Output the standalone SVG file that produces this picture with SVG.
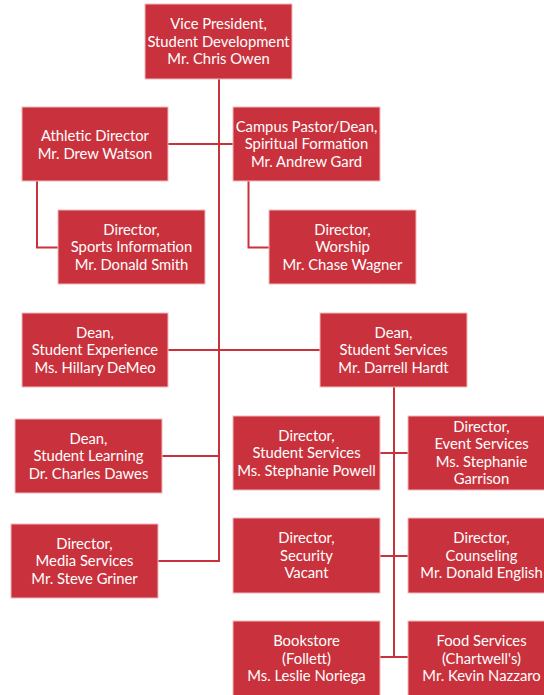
<svg xmlns="http://www.w3.org/2000/svg" width="544" height="695" viewBox="0 0 544 695">
<style>
.box{fill:#c9323c;stroke:#f2b9bc;stroke-width:1}
.t{font-family:Lato,"Liberation Sans",sans-serif;font-size:14.8px;fill:#ffffff;text-anchor:middle}
.c{fill:none;stroke:#c9323c;stroke-width:2}
</style>
<rect width="544" height="695" fill="#ffffff"/>
<g id="connectors">
<path class="c" d="M219 79V562"/>
<path class="c" d="M168 144H233"/>
<path class="c" d="M37 181V247.5H58"/>
<path class="c" d="M248.5 181V247.5H269"/>
<path class="c" d="M168 350H320"/>
<path class="c" d="M394 387V657"/>
<path class="c" d="M380 453H408"/>
<path class="c" d="M380 556H408"/>
<path class="c" d="M380 657H408"/>
<path class="c" d="M162 456H220"/>
<path class="c" d="M158 561H220"/>
</g>
<g id="vp"><rect class="box" x="145" y="4" width="147" height="75"/><text class="t" x="218.5"><tspan x="218.5" y="29">Vice President,</tspan><tspan x="218.5" y="46.5">Student Development</tspan><tspan x="218.5" y="64">Mr. Chris Owen</tspan></text></g>
<g id="athletic"><rect class="box" x="22" y="107" width="146" height="74"/><text class="t"><tspan x="95" y="141">Athletic Director</tspan><tspan x="95" y="158.5">Mr. Drew Watson</tspan></text></g>
<g id="campus"><rect class="box" x="233" y="107" width="147" height="74"/><text class="t"><tspan x="306.5" y="131.5">Campus Pastor/Dean,</tspan><tspan x="306.5" y="149">Spiritual Formation</tspan><tspan x="306.5" y="166.5">Mr. Andrew Gard</tspan></text></g>
<g id="sports"><rect class="box" x="58" y="210" width="147" height="74"/><text class="t"><tspan x="131.5" y="234.5">Director,</tspan><tspan x="131.5" y="252">Sports Information</tspan><tspan x="131.5" y="269.5">Mr. Donald Smith</tspan></text></g>
<g id="worship"><rect class="box" x="269" y="210" width="147" height="74"/><text class="t"><tspan x="342.5" y="234.5">Director,</tspan><tspan x="342.5" y="252">Worship</tspan><tspan x="342.5" y="269.5">Mr. Chase Wagner</tspan></text></g>
<g id="experience"><rect class="box" x="22" y="313" width="146" height="74"/><text class="t"><tspan x="95" y="337.5">Dean,</tspan><tspan x="95" y="355">Student Experience</tspan><tspan x="95" y="372.5">Ms. Hillary DeMeo</tspan></text></g>
<g id="deanss"><rect class="box" x="320" y="313" width="147" height="74"/><text class="t"><tspan x="393.5" y="337.5">Dean,</tspan><tspan x="393.5" y="355">Student Services</tspan><tspan x="393.5" y="372.5">Mr. Darrell Hardt</tspan></text></g>
<g id="dirss"><rect class="box" x="233" y="416" width="147" height="74"/><text class="t"><tspan x="306.5" y="440.5">Director,</tspan><tspan x="306.5" y="458">Student Services</tspan><tspan x="306.5" y="475.5">Ms. Stephanie Powell</tspan></text></g>
<g id="events"><rect class="box" x="408" y="416" width="147" height="74"/><text class="t"><tspan x="481.5" y="431.5">Director,</tspan><tspan x="481.5" y="449">Event Services</tspan><tspan x="481.5" y="466.5">Ms. Stephanie</tspan><tspan x="481.5" y="484">Garrison</tspan></text></g>
<g id="learning"><rect class="box" x="15" y="419" width="147" height="74"/><text class="t"><tspan x="88.5" y="443.5">Dean,</tspan><tspan x="88.5" y="461">Student Learning</tspan><tspan x="88.5" y="478.5">Dr. Charles Dawes</tspan></text></g>
<g id="security"><rect class="box" x="233" y="518" width="147" height="75"/><text class="t"><tspan x="306.5" y="543">Director,</tspan><tspan x="306.5" y="560.5">Security</tspan><tspan x="306.5" y="578">Vacant</tspan></text></g>
<g id="counseling"><rect class="box" x="408" y="518" width="147" height="75"/><text class="t"><tspan x="481.5" y="543">Director,</tspan><tspan x="481.5" y="560.5">Counseling</tspan><tspan x="481.5" y="578">Mr. Donald English</tspan></text></g>
<g id="media"><rect class="box" x="11" y="524" width="147" height="74"/><text class="t"><tspan x="84.5" y="548.5">Director,</tspan><tspan x="84.5" y="566">Media Services</tspan><tspan x="84.5" y="583.5">Mr. Steve Griner</tspan></text></g>
<g id="bookstore"><rect class="box" x="233" y="621" width="147" height="75"/><text class="t"><tspan x="306.5" y="646">Bookstore</tspan><tspan x="306.5" y="663.5">(Follett)</tspan><tspan x="306.5" y="681">Ms. Leslie Noriega</tspan></text></g>
<g id="food"><rect class="box" x="408" y="621" width="147" height="75"/><text class="t"><tspan x="481.5" y="646">Food Services</tspan><tspan x="481.5" y="663.5">(Chartwell's)</tspan><tspan x="481.5" y="681">Mr. Kevin Nazzaro</tspan></text></g>
</svg>
